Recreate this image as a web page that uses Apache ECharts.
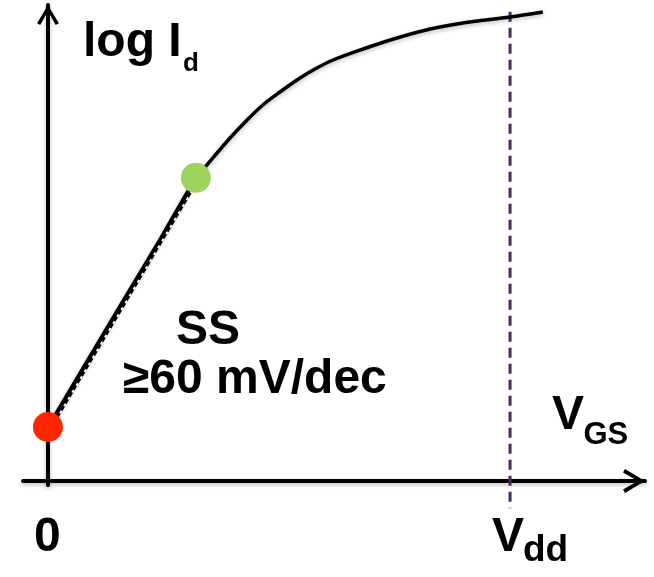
<!DOCTYPE html>
<html>
<head>
<meta charset="utf-8">
<script src="https://cdn.jsdelivr.net/npm/echarts@6/dist/echarts.min.js"></script>
<style>html,body{margin:0;padding:0;background:#fff;}#c{width:654px;height:577px;}</style>
</head>
<body>
<div id="c"></div>
<script>
// Curve: log Id vs VGS (VGS normalised so Vdd = 1)
const vgs   = [0, 0.080, 0.160, 0.242, 0.320, 0.340, 0.394, 0.431, 0.465, 0.502, 0.539, 0.574, 0.617, 0.682, 0.755, 0.827, 0.898, 1.000, 1.071];
const logId = [1.35, 2.90, 4.45, 6.03, 7.58, 7.85, 8.575, 9.025, 9.40, 9.725, 10.025, 10.275, 10.525, 10.80, 11.075, 11.30, 11.45, 11.60, 11.725];
// subthreshold-slope tangent (dashed) between the two marked points
const ssX = [0.007, 0.327];
const ssY = [1.35, 7.58];
const ssNotchX = [0.0085, 0.3285];
// marked points
const offPoint = [0, 1.35];
const onPoint  = [0.320, 7.58];
// supply voltage marker
const vdd = 1.0;
const vddLineY = [11.73, -0.68];

const FONT = "'Liberation Sans', Arial, sans-serif";
const chev = 'path://M12 0 L24 20 L20.5 22 L12 7 L3.5 22 L0 20 Z';

function txt(s, x, y, size) {
  return { type: 'text', x: x, y: y, z: 100,
    style: { text: s, fill: '#000', font: 'bold ' + size + 'px ' + FONT, align: 'left', verticalAlign: 'middle' } };
}

const shadow = { shadowColor: 'rgba(0,0,0,0.25)', shadowBlur: 4, shadowOffsetY: 2 };

const chart = echarts.init(document.getElementById('c'), null, { renderer: 'canvas' });
chart.setOption({
  animation: false,
  backgroundColor: '#fff',
  grid: { left: 23, right: 9, top: 5, bottom: 92, containLabel: false, outerBoundsMode: 'none' },
  xAxis: {
    type: 'value', min: -0.054, max: 1.292,
    axisLine: { show: true, onZero: true, symbol: ['none', chev], symbolSize: [24, 22], symbolOffset: [0, -11],
      lineStyle: Object.assign({ color: '#000', width: 4 }, shadow) },
    axisTick: { show: false }, axisLabel: { show: false }, splitLine: { show: false }
  },
  yAxis: {
    type: 'value', min: -0.1, max: 11.9,
    axisLine: { show: true, onZero: true, symbol: ['none', chev], symbolSize: [22, 20], symbolOffset: [0, -10],
      lineStyle: Object.assign({ color: '#000', width: 4 }, shadow) },
    axisTick: { show: false }, axisLabel: { show: false }, splitLine: { show: false }
  },
  series: [
    { type: 'line', data: vgs.map((x, i) => [x, logId[i]]), smooth: 0.3, showSymbol: false, clip: false, z: 3,
      lineStyle: Object.assign({ color: '#000', width: 3.5 }, shadow) },
    { type: 'line', data: ssX.map((x, i) => [x, ssY[i]]), showSymbol: false, clip: false, z: 4,
      lineStyle: { color: '#000', width: 3 } },
    { type: 'line', data: ssNotchX.map((x, i) => [x, ssY[i]]), showSymbol: false, clip: false, z: 5,
      lineStyle: { color: '#fff', width: 2, type: [3, 5] } },
    { type: 'line', data: vddLineY.map(y => [vdd, y]), showSymbol: false, clip: false, z: 2,
      lineStyle: { color: '#4b2a5e', width: 3, type: [10, 6] } },
    { type: 'scatter', data: [offPoint], symbolSize: 30, z: 10, itemStyle: { color: '#ff2600', opacity: 1 } },
    { type: 'scatter', data: [onPoint], symbolSize: 30, z: 10, itemStyle: { color: '#9dd45f', opacity: 1 } }
  ],
  graphic: [
    txt('log I', 83, 43, 48),
    txt('d', 183, 63.5, 26),
    txt('SS', 176, 331, 48),
    txt('\u226560 mV/dec', 123, 380, 48),
    txt('V', 552, 415.5, 48),
    txt('GS', 583.5, 435, 31),
    txt('V', 492, 537.5, 48),
    txt('dd', 523, 551, 37),
    txt('0', 34, 537.5, 48)
  ]
});
</script>
</body>
</html>
